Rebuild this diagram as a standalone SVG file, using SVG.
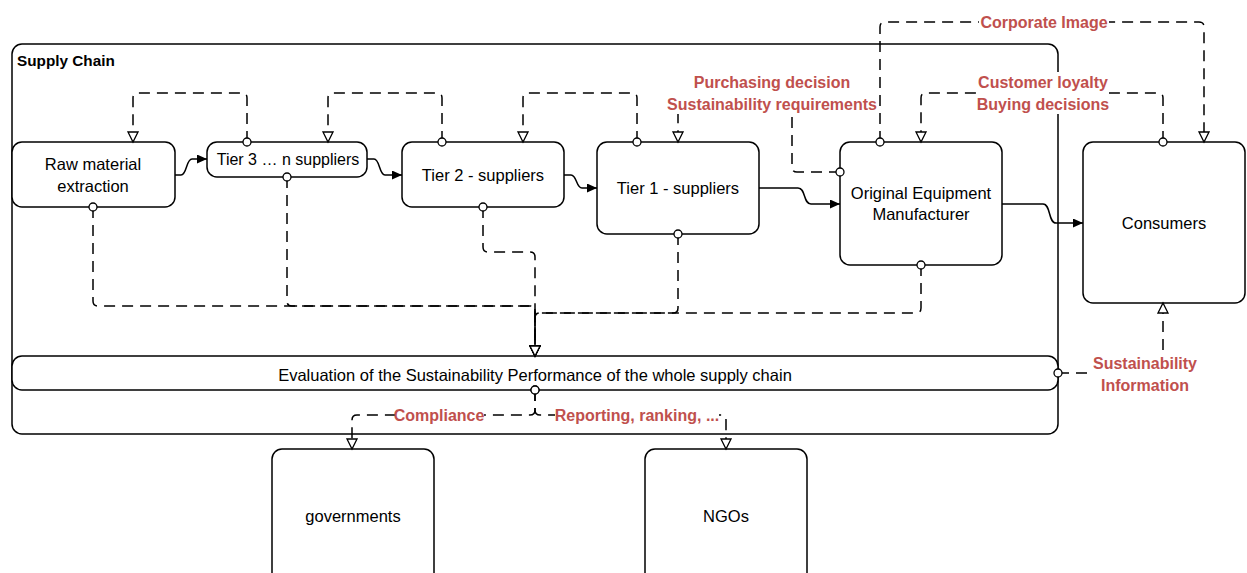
<svg xmlns="http://www.w3.org/2000/svg" width="1247" height="573" viewBox="0 0 1247 573">
<style>
.box{fill:#fff;stroke:#000;stroke-width:1.5}
.cont{fill:none;stroke:#000;stroke-width:1.5}
.t{font-family:"Liberation Sans",Arial,sans-serif;font-size:16.5px;fill:#000;text-anchor:middle}
.title{font-family:"Liberation Sans",Arial,sans-serif;font-size:15.3px;font-weight:bold;fill:#000}
.lbl{font-family:"Liberation Sans",Arial,sans-serif;font-size:16px;font-weight:bold;fill:#C0504D;text-anchor:middle}
.lblbg{fill:#fff;stroke:none}
.solid{fill:none;stroke:#000;stroke-width:1.5;marker-end:url(#fa)}
.dash{fill:none;stroke:#000;stroke-width:1.5;stroke-dasharray:11,7;marker-start:url(#ci);marker-end:url(#oa)}
</style>
<defs>
<marker id="fa" markerUnits="userSpaceOnUse" markerWidth="11" markerHeight="10" refX="10" refY="4.5" orient="auto" viewBox="0 0 11 10">
<path d="M0,0 L10,4.5 L0,9 z" fill="#000" stroke="none"/>
</marker>
<marker id="oa" markerUnits="userSpaceOnUse" markerWidth="13" markerHeight="13" refX="11" refY="6" orient="auto" viewBox="0 0 13 13">
<path d="M1,1 L11,6 L1,11 z" fill="#fff" stroke="#000" stroke-width="1.3" stroke-dasharray="none"/>
</marker>
<marker id="ci" markerUnits="userSpaceOnUse" markerWidth="12" markerHeight="12" refX="6" refY="6" orient="auto" viewBox="0 0 12 12">
<circle cx="6" cy="6" r="4" fill="#fff" stroke="#000" stroke-width="1.3" stroke-dasharray="none"/>
</marker>
</defs>

<g id="supply-chain">
<rect class="cont" x="12" y="44" width="1046" height="390" rx="10"/>
<text class="title" x="17" y="66">Supply Chain</text>
</g>

<g id="raw-material">
<rect class="box" x="12" y="142" width="163" height="65" rx="10"/>
<text class="t" x="93" y="170">Raw material</text>
<text class="t" x="93" y="192">extraction</text>
</g>
<g id="tier3">
<rect class="box" x="207" y="142" width="160" height="35" rx="10"/>
<text class="t" x="288" y="165" style="font-size:16px">Tier 3 … n suppliers</text>
</g>
<g id="tier2">
<rect class="box" x="402" y="142" width="162" height="65" rx="10"/>
<text class="t" x="483" y="181">Tier 2 - suppliers</text>
</g>
<g id="tier1">
<rect class="box" x="597" y="142" width="162" height="92" rx="10"/>
<text class="t" x="678" y="194">Tier 1 - suppliers</text>
</g>
<g id="oem">
<rect class="box" x="840" y="142" width="162" height="123" rx="10"/>
<text class="t" x="921" y="199">Original Equipment</text>
<text class="t" x="921" y="220">Manufacturer</text>
</g>
<g id="consumers">
<rect class="box" x="1083" y="142" width="162" height="161" rx="10"/>
<text class="t" x="1164" y="229">Consumers</text>
</g>
<g id="evaluation">
<rect class="box" x="12" y="356" width="1046" height="34" rx="10"/>
<text class="t" x="535" y="381">Evaluation of the Sustainability Performance of the whole supply chain</text>
</g>
<g id="governments">
<rect class="box" x="272" y="449" width="162" height="140" rx="10"/>
<text class="t" x="353" y="522">governments</text>
</g>
<g id="ngos">
<rect class="box" x="645" y="449" width="162" height="140" rx="10"/>
<text class="t" x="726" y="522">NGOs</text>
</g>

<g id="connectors">
<path class="solid" d="M175,175 H181 C187,175 186,159 192,159 H207"/>
<path class="solid" d="M367,159 H374 C380,159 379,175 385,175 H402"/>
<path class="solid" d="M564,175 H571 C577,175 576,188 582,188 H597"/>
<path class="solid" d="M759,188 H798 C806,188 803,204 811,204 H840"/>
<path class="solid" d="M1002,204 H1043 C1051,204 1048,223 1056,223 H1083"/>

<path class="dash" d="M247,142 V98 Q247,93 242,93 H138 Q133,93 133,98 V142"/>
<path class="dash" d="M442,142 V98 Q442,93 437,93 H333 Q328,93 328,98 V142"/>
<path class="dash" d="M637,142 V98 Q637,93 632,93 H528 Q523,93 523,98 V142"/>
<path class="dash" d="M840,172 H797 Q792,172 792,167 V104 H683 Q678,104 678,109 V142"/>
<path class="dash" d="M880,142 V27 Q880,22 885,22 H1199 Q1204,22 1204,27 V142"/>
<path class="dash" d="M1163,142 V98 Q1163,93 1158,93 H926 Q921,93 921,98 V142"/>

<path class="dash" d="M93,207 V301 Q93,306 98,306 H530 Q535,306 535,311 V356"/>
<path class="dash" d="M287,177 V301 Q287,306 292,306 H530 Q535,306 535,311 V356"/>
<path class="dash" d="M483,207 V247 Q483,252 488,252 H530 Q535,252 535,257 V356"/>
<path class="dash" d="M678,234 V308 Q678,313 673,313 H540 Q535,313 535,318 V356"/>
<path class="dash" d="M921,265 V308 Q921,313 916,313 H540 Q535,313 535,318 V356"/>

<path class="dash" d="M535,390 V410 Q535,415 530,415 H357 Q352,415 352,420 V449"/>
<path class="dash" d="M535,390 V410 Q535,415 540,415 H721 Q726,415 726,420 V449"/>
<path class="dash" d="M1058,373 H1158 Q1163,373 1163,368 V303"/>

<g id="labels">
<rect class="lblbg" x="979" y="13" width="130" height="18"/>
<text class="lbl" x="1044" y="28">Corporate Image</text>
<rect class="lblbg" x="666" y="72" width="213" height="42"/>
<text class="lbl" x="772" y="88">Purchasing decision</text>
<text class="lbl" x="772" y="110">Sustainability requirements</text>
<rect class="lblbg" x="978" y="72" width="131" height="42"/>
<text class="lbl" x="1043" y="88">Customer loyalty</text>
<text class="lbl" x="1043" y="110">Buying decisions</text>
<rect class="lblbg" x="1092" y="353" width="107" height="42"/>
<text class="lbl" x="1145" y="369">Sustainability</text>
<text class="lbl" x="1145" y="391">Information</text>
<rect class="lblbg" x="395" y="406" width="89" height="18"/>
<text class="lbl" x="439" y="421">Compliance</text>
<rect class="lblbg" x="555" y="406" width="164" height="18"/>
<text class="lbl" x="637" y="421">Reporting, ranking, ...</text>
</g>
</g>
</svg>
